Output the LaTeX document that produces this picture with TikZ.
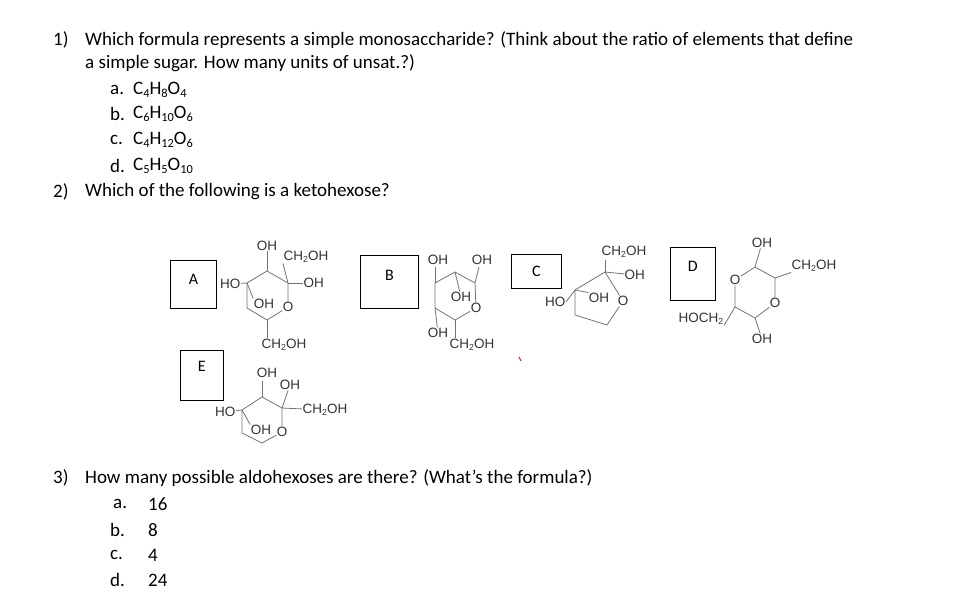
\documentclass[tikz,border=0pt]{standalone}
\usepackage{fontspec}
\setmainfont{Carlito}
\newfontfamily\chemf{Liberation Sans}
\newcommand{\sbx}[1]{\raisebox{-0.3ex}{\scalebox{0.65}{#1}}}
\begin{document}
\begin{tikzpicture}[x=1pt,y=-1pt,
 q/.style={anchor=west,inner sep=0pt,font=\fontsize{19}{22}\selectfont},
 ch/.style={inner sep=0.5pt,font=\chemf\fontsize{13.5}{15}\selectfont,text=black!80},
 bd/.style={draw=black!55,line width=0.8pt},
 bx/.style={draw=black,line width=0.8pt,inner sep=0pt},
 bl/.style={font=\fontsize{16}{18}\selectfont}]
\path[fill=white] (0,0) rectangle (971,597);
% questions
\node[q] (q1n) at (53,40) {1)};
\node[q] (q1) at (85,40) {Which formula represents a simple monosaccharide? (Think about the ratio of elements that define};
\node[q] (q1b) at (85,63) {a simple sugar. How many units of unsat.?)};
\node[q] (a1) at (110,90) {a.};
\node[q] (a1t) at (133,90) {C\sbx4H\sbx8O\sbx4};
\node[q] (b1) at (110,114) {b.};
\node[q] (b1t) at (133,114) {C\sbx6H\sbx{10}O\sbx6};
\node[q] (c1) at (110,140) {c.};
\node[q] (c1t) at (133,140) {C\sbx4H\sbx{12}O\sbx6};
\node[q] (d1) at (110,166) {d.};
\node[q] (d1t) at (133,166) {C\sbx5H\sbx5O\sbx{10}};
\node[q] (q2n) at (53,192) {2)};
\node[q] (q2) at (85,192) {Which of the following is a ketohexose?};
\node[q] (q3n) at (53,478) {3)};
\node[q] (q3) at (85,478) {How many possible aldohexoses are there? (What’s the formula?)};
\node[q] (a3) at (113,504) {a.};\node[q] (a3t) at (148,504) {16};
\node[q] (b3) at (110,530) {b.};\node[q] (b3t) at (148,530) {8};
\node[q] (c3) at (110,555) {c.};\node[q] (c3t) at (148,555) {4};
\node[q] (d3) at (110,580) {d.};\node[q] (d3t) at (148,580) {24};
% boxes
\node[bx,minimum width=46pt,minimum height=48pt,anchor=north west] (bA) at (170,260) {};
\node[bl] at ([yshift=-19pt]bA.north) {A};
\node[bx,minimum width=58pt,minimum height=53pt,anchor=north west] (bB) at (360,255) {};
\node[bl] at ([yshift=-20pt]bB.north) {B};
\node[bx,minimum width=50pt,minimum height=34pt,anchor=north west] (bC) at (511,254) {};
\node[bl] at ([yshift=-17pt]bC.north) {C};
\node[bx,minimum width=45pt,minimum height=53pt,anchor=north west] (bD) at (670,247) {};
\node[bl] at ([yshift=-19pt]bD.north) {D};
\node[bx,minimum width=43pt,minimum height=50pt,anchor=north west] (bE) at (180,350) {};
\node[bl] at ([yshift=-16pt]bE.north) {E};
% ---- A
\coordinate (AT) at (267,271);\coordinate (AR) at (288,283);
\node[ch] (AO) at (288,307) {O};
\coordinate (AB) at (267,320);\coordinate (AL2) at (247,308);\coordinate (AL1) at (247,283);
\draw[bd] (AT)--(AR)--(AO)--(AB)--(AL2)--(AL1)--(AT);
\node[ch] (A1) at (267,246) {OH};\draw[bd] (AT)--(A1);
\node[ch,anchor=west] (A2) at (283,257) {CH\sbx2OH};\draw[bd] (AR)--(A2.south west);
\node[ch,anchor=west] (A3) at (303,283) {OH};\draw[bd] (AR)--(A3);
\node[ch,anchor=east] (A4) at (241,284) {HO};\draw[bd] (AL1)--(A4);
\node[ch] (A5) at (264,304) {OH};\draw[bd] (AL1)--(A5.north west);
\node[ch,anchor=west] (A6) at (261,345) {CH\sbx2OH};\draw[bd] (AB)--(267,338);
% ---- B
\coordinate (BT) at (455,272);\coordinate (BR) at (475,283);
\node[ch] (BO) at (476,308) {O};
\coordinate (BB) at (455,320);\coordinate (BL2) at (435,308);\coordinate (BL1) at (435,283);
\draw[bd] (BT)--(BR)--(BO)--(BB)--(BL2)--(BL1)--(BT);
\node[ch] (B1) at (438,260) {OH};\draw[bd] (BL1)--(435,267);
\node[ch] (B2) at (482,260) {OH};\draw[bd] (BR)--(479,267);
\node[ch] (B3) at (461,297) {OH};\draw[bd] (BT)--(B3);
\node[ch] (B4) at (438,333) {OH};\draw[bd] (BL2)--(B4);
\node[ch,anchor=west] (B5) at (449,345) {CH\sbx2OH};\draw[bd] (BB)--(455,338);
\draw[magenta,line width=1pt] (519,357)--(521,361);
% ---- C
\coordinate (CT) at (605,272);
\node[ch] (CO) at (623,301) {O};
\coordinate (CB) at (607,325);\coordinate (CL2) at (575,315);\coordinate (CL1) at (575,290);
\draw[bd] (CT)--(CO)--(CB)--(CL2)--(CL1)--(CT);
\node[ch] (C1) at (624,252) {CH\sbx2OH};\draw[bd] (CT)--(605,260);
\node[ch,anchor=west] (C2) at (624,275) {OH};\draw[bd] (CT)--(C2);
\node[ch,anchor=east] (C3) at (566,302) {HO};\draw[bd] (CL1)--(C3.east);
\node[ch] (C4) at (599,298) {OH};\draw[bd] (CL1)--(C4.north west);
% ---- D
\coordinate (DT) at (755,267);\coordinate (DR) at (775,278);
\node[ch] (DO2) at (775,303) {O};
\coordinate (DB) at (755,318);\coordinate (DL) at (735,307);
\node[ch] (DO1) at (735,280) {O};
\draw[bd] (DT)--(DR)--(DO2)--(DB)--(DL)--(DO1)--(DT);
\node[ch] (D1) at (762,243) {OH};\draw[bd] (DT)--(D1);
\node[ch,anchor=west] (D2) at (791,266) {CH\sbx2OH};\draw[bd] (DR)--(D2.south west);
\node[ch] (D3) at (762,339) {OH};\draw[bd] (DB)--(D3);
\node[ch,anchor=east] (D4) at (724,319) {HOCH\sbx2};\draw[bd] (DL)--(D4.south east);
% ---- E
\coordinate (ET) at (262,397);\coordinate (ER) at (282,408);
\node[ch] (EO) at (282,432) {O};
\coordinate (EB) at (262,443);\coordinate (EL2) at (242,433);\coordinate (EL1) at (242,410);
\draw[bd] (ET)--(ER)--(EO)--(EB)--(EL2)--(EL1)--(ET);
\node[ch] (E1) at (267,373) {OH};\draw[bd] (ET)--(262,381);
\node[ch] (E2) at (290,385) {OH};\draw[bd] (ER)--(E2);
\node[ch,anchor=west] (E3) at (302,410) {CH\sbx2OH};\draw[bd] (ER)--(E3);
\node[ch,anchor=east] (E4) at (236,412) {HO};\draw[bd] (EL1)--(E4);
\node[ch] (E5) at (261,430) {OH};\draw[bd] (EL1)--(E5.north west);
\end{tikzpicture}
\end{document}
